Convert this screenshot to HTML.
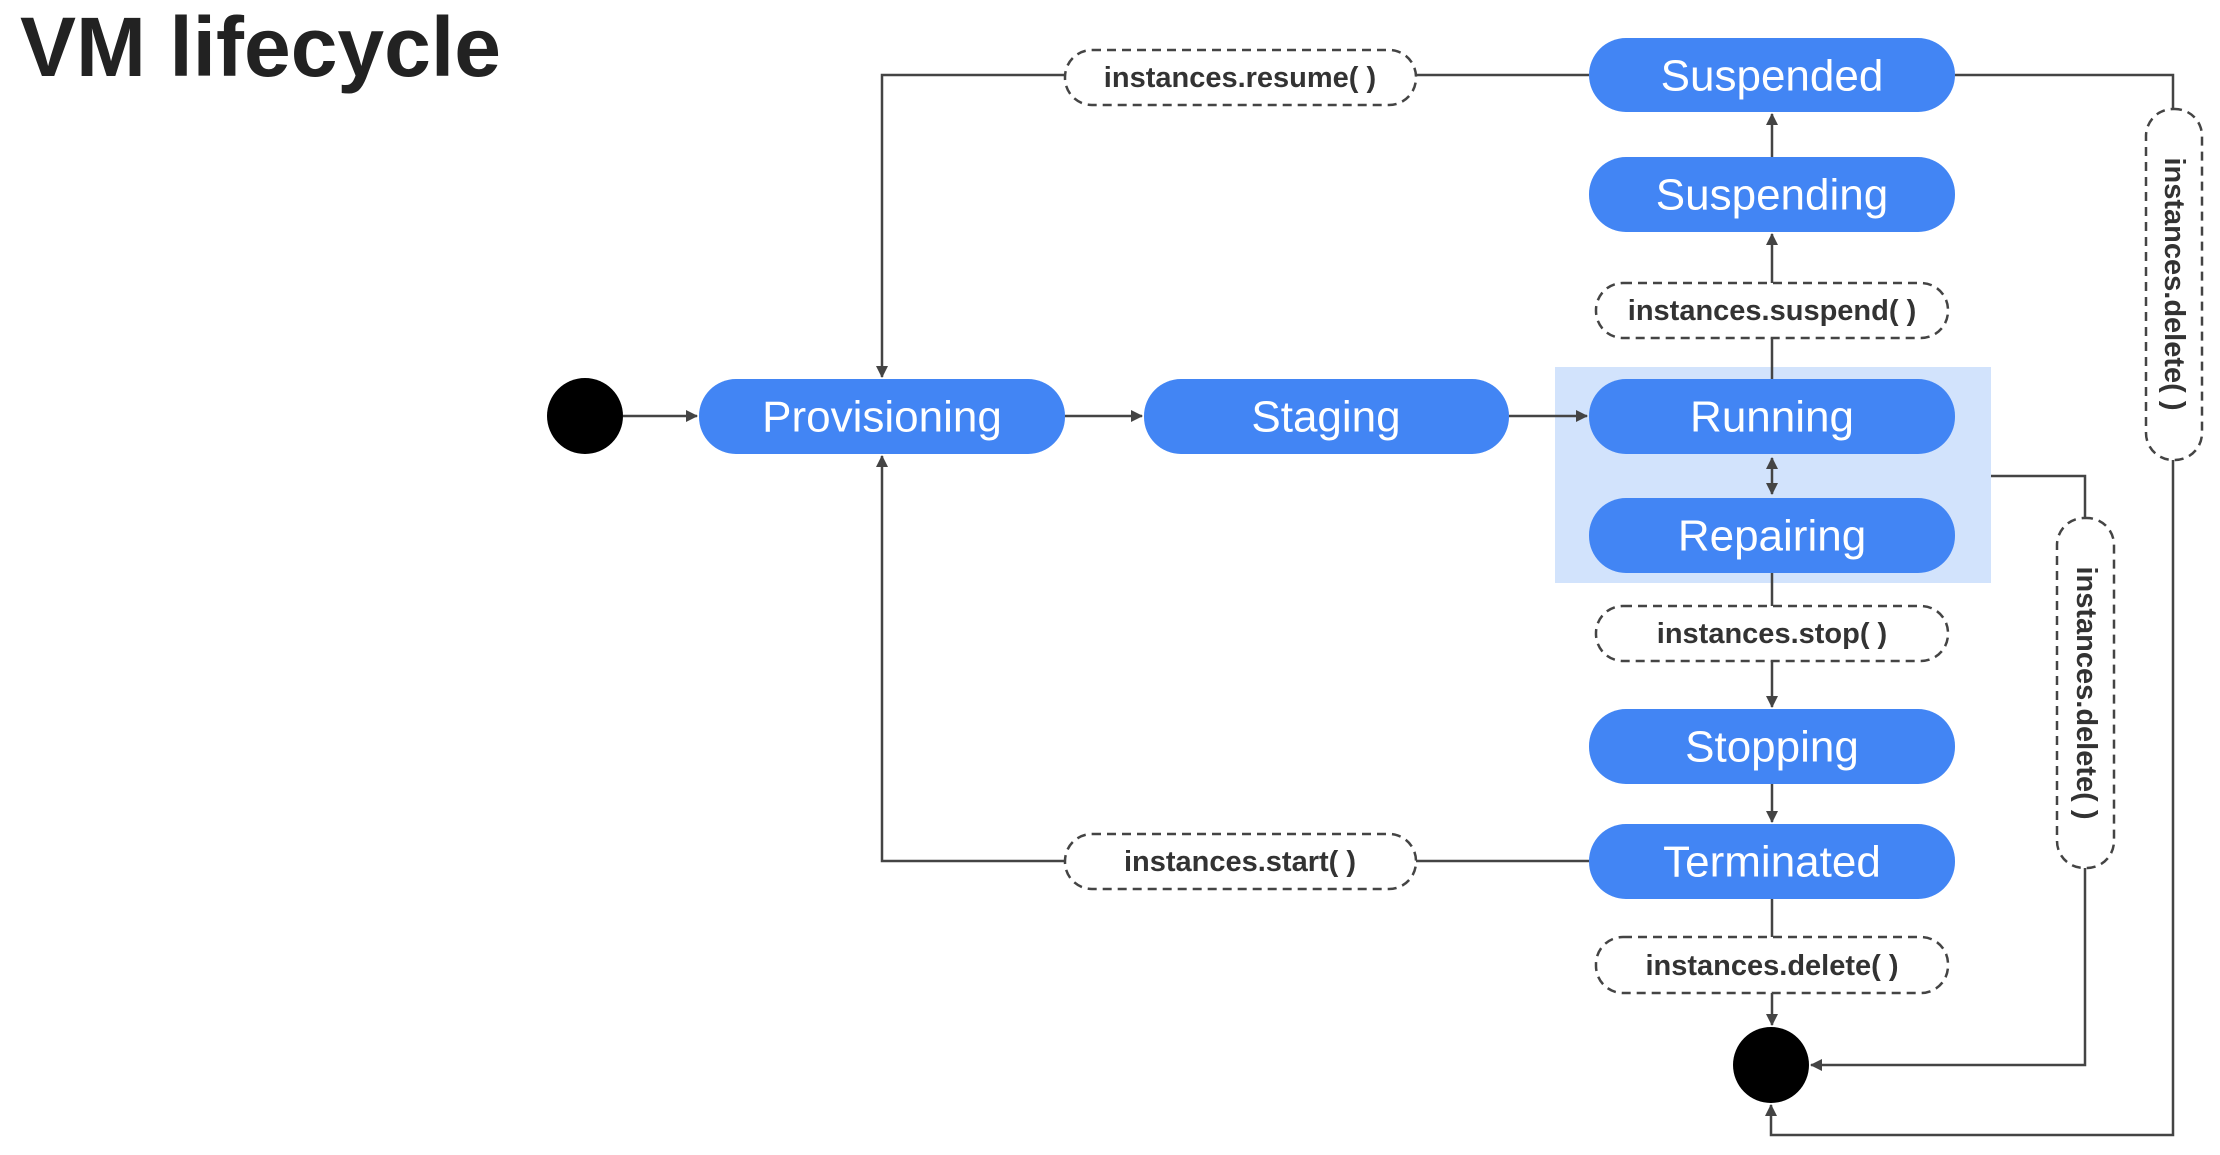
<!DOCTYPE html>
<html><head><meta charset="utf-8"><style>
html,body{margin:0;padding:0;background:#fff;}
svg{display:block;}
.p{fill:#4285f4;}
.pt{fill:#fff;font-family:"Liberation Sans",sans-serif;font-size:44px;text-anchor:middle;dominant-baseline:central;}
.l{fill:#fff;stroke:#444;stroke-width:2.5;stroke-dasharray:9 6;}
.lt{fill:#333;font-family:"Liberation Sans",sans-serif;font-size:29px;font-weight:bold;text-anchor:middle;dominant-baseline:central;}
.c{stroke:#444;stroke-width:2.5;fill:none;}
</style></head><body>
<svg width="2220" height="1155" viewBox="0 0 2220 1155" xmlns="http://www.w3.org/2000/svg">
<defs><marker id="a" markerWidth="12" markerHeight="12" refX="11" refY="6" orient="auto" markerUnits="userSpaceOnUse"><path d="M0,0 L12,6 L0,12 z" fill="#444"/></marker>
<marker id="b" markerWidth="12" markerHeight="12" refX="1" refY="6" orient="auto" markerUnits="userSpaceOnUse"><path d="M12,0 L0,6 L12,12 z" fill="#444"/></marker></defs>
<rect x="0" y="0" width="2220" height="1155" fill="#fff"/>
<text x="20" y="76" font-family="Liberation Sans,sans-serif" font-size="84" font-weight="bold" fill="#222">VM lifecycle</text>
<rect x="1555" y="367" width="436" height="216" fill="#d2e3fc"/>
<path class="c" d="M623,416 L697,416" marker-end="url(#a)"/>
<path class="c" d="M1065,416 L1142,416" marker-end="url(#a)"/>
<path class="c" d="M1509,416 L1587,416" marker-end="url(#a)"/>
<path class="c" d="M1589,75 L1416,75 M1065,75 L882,75 L882,377" marker-end="url(#a)"/>
<path class="c" d="M1589,861 L1416,861 M1065,861 L882,861 L882,456" marker-end="url(#a)"/>
<path class="c" d="M1772,379 L1772,338"/>
<path class="c" d="M1772,283 L1772,234" marker-end="url(#a)"/>
<path class="c" d="M1772,157 L1772,114" marker-end="url(#a)"/>
<path class="c" d="M1772,458 L1772,494" marker-start="url(#b)" marker-end="url(#a)"/>
<path class="c" d="M1772,573 L1772,606"/>
<path class="c" d="M1772,661 L1772,707" marker-end="url(#a)"/>
<path class="c" d="M1772,784 L1772,822" marker-end="url(#a)"/>
<path class="c" d="M1772,899 L1772,937"/>
<path class="c" d="M1772,993 L1772,1025" marker-end="url(#a)"/>
<path class="c" d="M1955,75 L2173,75 L2173,109 M2173,460 L2173,1135 L1771,1135 L1771,1105" marker-end="url(#a)"/>
<path class="c" d="M1991,476 L2085,476 L2085,518 M2085,868 L2085,1065 L1811,1065" marker-end="url(#a)"/>
<circle cx="585" cy="416" r="38" fill="#000"/>
<circle cx="1771" cy="1065" r="38" fill="#000"/>
<rect class="p" x="699" y="379" width="366" height="75" rx="37"/><text class="pt" x="882" y="417">Provisioning</text>
<rect class="p" x="1144" y="379" width="365" height="75" rx="37"/><text class="pt" x="1326" y="417">Staging</text>
<rect class="p" x="1589" y="379" width="366" height="75" rx="37"/><text class="pt" x="1772" y="417">Running</text>
<rect class="p" x="1589" y="498" width="366" height="75" rx="37"/><text class="pt" x="1772" y="536">Repairing</text>
<rect class="p" x="1589" y="38" width="366" height="74" rx="37"/><text class="pt" x="1772" y="76">Suspended</text>
<rect class="p" x="1589" y="157" width="366" height="75" rx="37"/><text class="pt" x="1772" y="195">Suspending</text>
<rect class="p" x="1589" y="709" width="366" height="75" rx="37"/><text class="pt" x="1772" y="747">Stopping</text>
<rect class="p" x="1589" y="824" width="366" height="75" rx="37"/><text class="pt" x="1772" y="862">Terminated</text>
<rect class="l" x="1065" y="50" width="351" height="55" rx="27"/><text class="lt" x="1240" y="78">instances.resume( )</text>
<rect class="l" x="1065" y="834" width="351" height="55" rx="27"/><text class="lt" x="1240" y="862">instances.start( )</text>
<rect class="l" x="1596" y="283" width="352" height="55" rx="27"/><text class="lt" x="1772" y="311">instances.suspend( )</text>
<rect class="l" x="1596" y="606" width="352" height="55" rx="27"/><text class="lt" x="1772" y="634">instances.stop( )</text>
<rect class="l" x="1596" y="937" width="352" height="56" rx="27"/><text class="lt" x="1772" y="966">instances.delete( )</text>
<rect class="l" x="2146" y="109" width="56" height="351" rx="27"/><text class="lt" transform="translate(2174,284) rotate(90)" x="0" y="0">instances.delete( )</text>
<rect class="l" x="2057" y="518" width="57" height="350" rx="27"/><text class="lt" transform="translate(2086,693) rotate(90)" x="0" y="0">instances.delete( )</text>
</svg>
</body></html>
